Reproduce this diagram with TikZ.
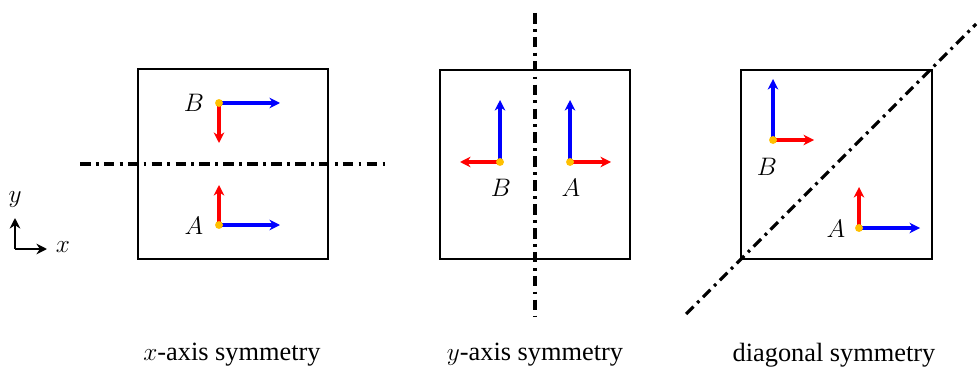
\documentclass[tikz,border=0pt]{standalone}
\usepackage{fontspec}
\setmainfont{Liberation Serif}
\usetikzlibrary{arrows.meta}
\definecolor{dotorange}{RGB}{255,192,0}

\tikzset{
  frame/.style={draw, line width=1pt},
  symline/.style={line width=1.8pt, dash pattern=on 6pt off 3pt on 1.6pt off 3pt},
  bluevec/.style={->, line width=2pt, blue},
  redvec/.style={->, line width=2pt, red},
  pt/.style={circle, fill=dotorange, inner sep=0pt, minimum size=4.5pt},
  lbl/.style={font=\fontsize{15}{17}\selectfont},
  caption/.style={font=\fontsize{15}{17}\selectfont}
}

\begin{document}
\begin{tikzpicture}[>={Stealth[length=6pt,width=6pt]}, x=0.02cm, y=-0.02cm]
    \useasboundingbox (0,0) rectangle (979,371);

    % axes
    \coordinate (o) at (15,249);
    \coordinate (ox) at (47,249);
    \coordinate (oy) at (15,218);
    \draw[->, line width=1.5pt] (o) -- (ox);
    \draw[->, line width=1.5pt] (o) -- (oy);
    \node[lbl] (xl) at (63,247) {$x$};
    \node[lbl] (yl) at (15,200) {$y$};

    % x-axis symmetry
    \draw[frame] (138,69) rectangle (328,259);
    \coordinate (l1a) at (80,164);
    \coordinate (l1b) at (385,164);
    \draw[symline] (l1a) -- (l1b);
    \coordinate (B1) at (219,103);
    \coordinate (B1x) at (280,103);
    \coordinate (B1y) at (219,143);
    \draw[bluevec] (B1) -- (B1x);
    \draw[redvec] (B1) -- (B1y);
    \node[pt] (b1) at (B1) {};
    \node[lbl] (lb1) at (194,103) {$B$};
    \coordinate (A1) at (219,225);
    \coordinate (A1x) at (280,225);
    \coordinate (A1y) at (219,185);
    \draw[bluevec] (A1) -- (A1x);
    \draw[redvec] (A1) -- (A1y);
    \node[pt] (a1) at (A1) {};
    \node[lbl] (la1) at (194,226) {$A$};
    \node[caption] (c1) at (232,355) {$x$-axis symmetry};

    % y-axis symmetry
    \draw[frame] (440,70) rectangle (630,259);
    \coordinate (l2a) at (535,13);
    \coordinate (l2b) at (535,316);
    \draw[symline] (l2a) -- (l2b);
    \coordinate (B2) at (500,162);
    \coordinate (B2x) at (460,162);
    \coordinate (B2y) at (500,100);
    \draw[redvec] (B2) -- (B2x);
    \draw[bluevec] (B2) -- (B2y);
    \node[pt] (b2) at (B2) {};
    \node[lbl] (lb2) at (501,188) {$B$};
    \coordinate (A2) at (570,162);
    \coordinate (A2x) at (611,162);
    \coordinate (A2y) at (570,100);
    \draw[redvec] (A2) -- (A2x);
    \draw[bluevec] (A2) -- (A2y);
    \node[pt] (a2) at (A2) {};
    \node[lbl] (la2) at (571,188) {$A$};
    \node[caption] (c2) at (535,355) {$y$-axis symmetry};

    % diagonal symmetry
    \draw[frame] (741,70) rectangle (932,259);
    \coordinate (l3a) at (686,314);
    \coordinate (l3b) at (976,24);
    \draw[symline] (l3a) -- (l3b);
    \coordinate (B3) at (773,140);
    \coordinate (B3x) at (814,140);
    \coordinate (B3y) at (773,79);
    \draw[redvec] (B3) -- (B3x);
    \draw[bluevec] (B3) -- (B3y);
    \node[pt] (b3) at (B3) {};
    \node[lbl] (lb3) at (767,167) {$B$};
    \coordinate (A3) at (859,228);
    \coordinate (A3x) at (920,228);
    \coordinate (A3y) at (859,187);
    \draw[bluevec] (A3) -- (A3x);
    \draw[redvec] (A3) -- (A3y);
    \node[pt] (a3) at (A3) {};
    \node[lbl] (la3) at (836,229) {$A$};
    \node[caption] (c3) at (834,355) {diagonal symmetry};
\end{tikzpicture}
\end{document}
